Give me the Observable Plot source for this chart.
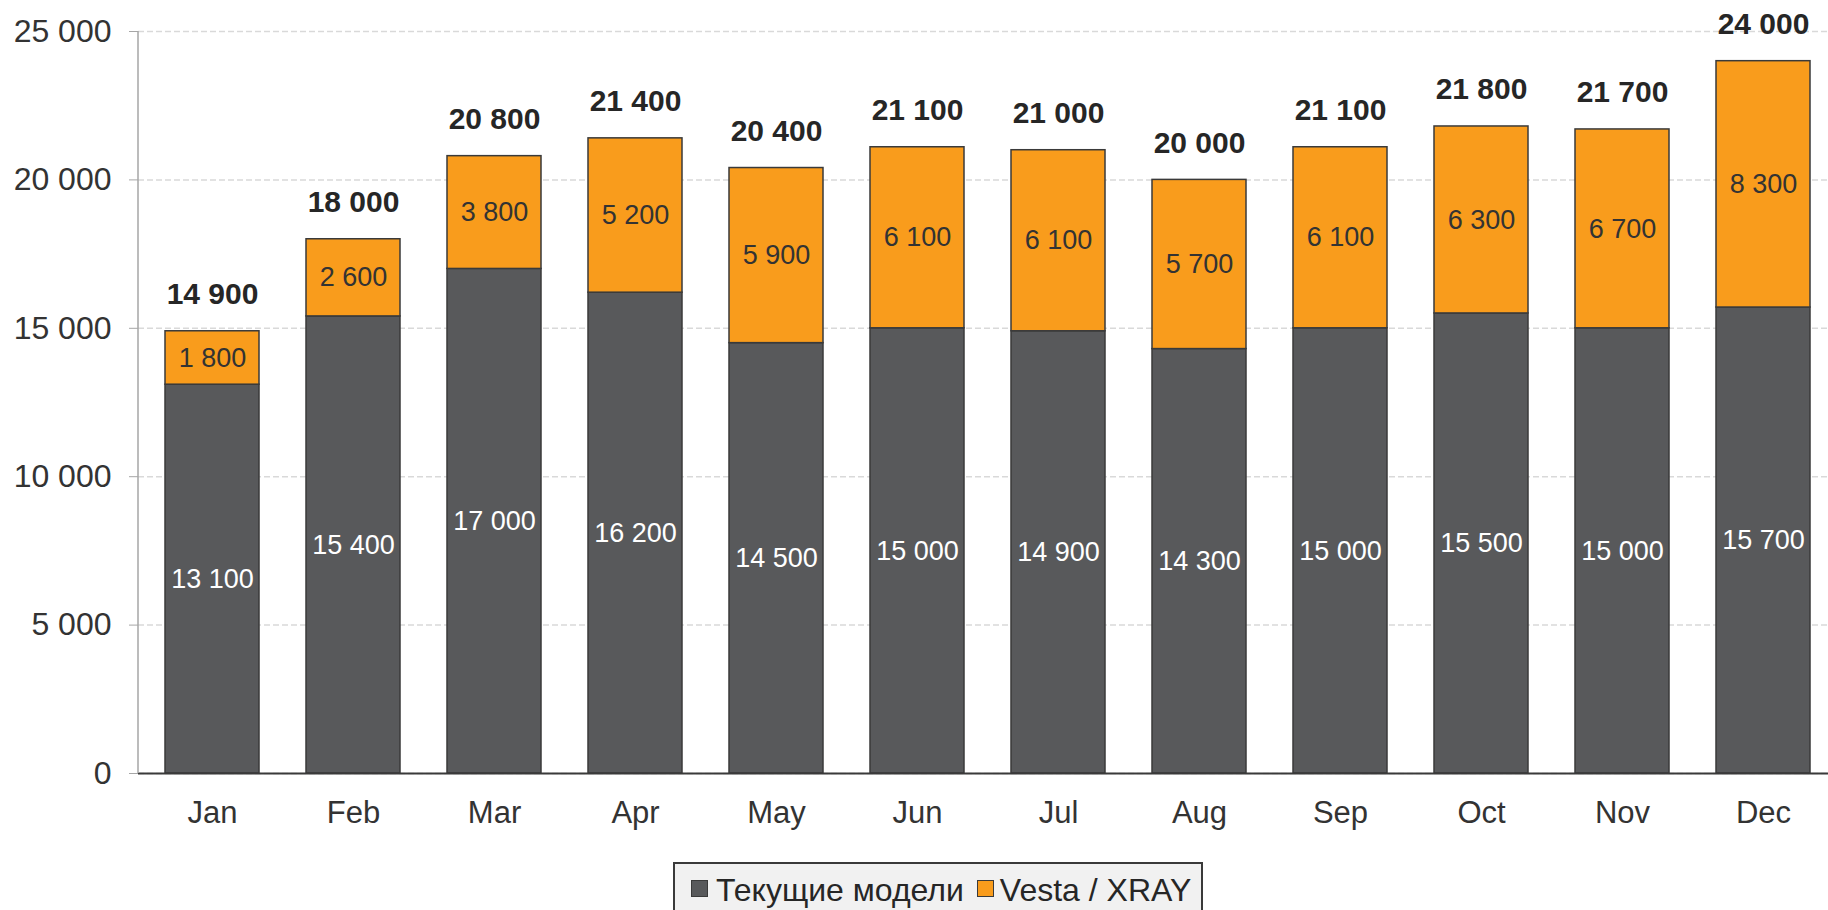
<!DOCTYPE html>
<html><head><meta charset="utf-8">
<script src="https://cdn.jsdelivr.net/npm/d3@7"></script>
<script src="https://cdn.jsdelivr.net/npm/@observablehq/plot@0.6"></script>
<style>
body{margin:0;background:#fff;font-family:"Liberation Sans",Arial,sans-serif;}
#wrap{position:relative;width:1828px;height:910px;overflow:hidden;background:#fff;}
#legend{position:absolute;left:673px;top:862px;width:530px;height:70px;box-sizing:border-box;border:2px solid #3a3a3a;background:#f1f1f1;display:flex;align-items:flex-start;padding-left:16px;padding-top:10px;font-size:32px;line-height:1;color:#262626;white-space:nowrap;}
#legend .sw{display:inline-block;width:17px;height:17px;box-sizing:border-box;border:1.5px solid #3a3a3a;margin-top:6px;}
#legend .item{display:flex;align-items:flex-start;}
</style></head><body>
<div id="wrap"><div id="chart"></div><div id="legend"></div></div>
<script>
const months = ["Jan","Feb","Mar","Apr","May","Jun","Jul","Aug","Sep","Oct","Nov","Dec"];
const current = [13100,15400,17000,16200,14500,15000,14900,14300,15000,15500,15000,15700];
const vesta = [1800,2600,3800,5200,5900,6100,6100,5700,6100,6300,6700,8300];
const totals = [14900,18000,20800,21400,20400,21100,21000,20000,21100,21800,21700,24000];
const seriesNames = ["Текущие модели","Vesta / XRAY"];
const seriesColors = ["#58595b","#f99c1c"];
const yTicks = [0,5000,10000,15000,20000,25000];

const fmt = d => d3.format(",")(d).replace(/,/g, " ");

const rows = [];
months.forEach((m, i) => {
  rows.push({month: m, series: seriesNames[0], y1: 0, y2: current[i], value: current[i]});
  rows.push({month: m, series: seriesNames[1], y1: current[i], y2: current[i] + vesta[i], value: vesta[i]});
});
const totalRows = months.map((m, i) => ({month: m, total: totals[i]}));

const chart = Plot.plot({
  width: 1828, height: 850,
  marginLeft: 138, marginRight: 0, marginTop: 31, marginBottom: 77,
  style: {fontFamily: "Liberation Sans, Arial, sans-serif", background: "#fff"},
  x: {domain: months, range: [138, 1838], paddingInner: 0.33, paddingOuter: 0.165, label: null},
  y: {domain: [0, 25000], label: null},
  color: {domain: seriesNames, range: seriesColors},
  marks: [
    Plot.gridY(yTicks, {stroke: "#d9d9d9", strokeOpacity: 1, strokeDasharray: "6,3", strokeWidth: 1.5}),
    Plot.axisY(yTicks, {tickFormat: fmt, tickSize: 9, tickPadding: 18, stroke: "#a6a6a6", fill: "#333", fontSize: 32, label: null}),
    Plot.axisX({tickSize: 0, tickPadding: 27, fontSize: 31, fill: "#333", label: null}),
    Plot.barY(rows, {x: "month", y1: "y1", y2: "y2", fill: "series", stroke: "#3a3a3a", strokeWidth: 1.5}),
    Plot.ruleY([0], {stroke: "#3a3a3a", strokeWidth: 2}),
    Plot.text(rows.filter(d => d.series === seriesNames[0]), {x: "month", y: d => (d.y1 + d.y2) / 2, text: d => fmt(d.value), fill: "#ffffff", fontSize: 27}),
    Plot.text(rows.filter(d => d.series === seriesNames[1]), {x: "month", y: d => (d.y1 + d.y2) / 2, text: d => fmt(d.value), fill: "#333333", fontSize: 27}),
    Plot.text(totalRows, {x: "month", y: "total", text: d => fmt(d.total), dy: -37, fontWeight: "bold", fontSize: 30, fill: "#262626"})
  ]
});

const ys = chart.scale("y");
d3.select(chart).append("line")
  .attr("x1", 138).attr("x2", 138)
  .attr("y1", ys.apply(25000)).attr("y2", ys.apply(0))
  .attr("stroke", "#a6a6a6").attr("stroke-width", 1.5);

document.getElementById("chart").appendChild(chart);

const legend = document.getElementById("legend");
seriesNames.forEach((name, i) => {
  const item = document.createElement("div");
  item.className = "item";
  item.style.marginRight = i === 0 ? "13px" : "0";
  const sw = document.createElement("span");
  sw.className = "sw";
  sw.style.background = seriesColors[i];
  sw.style.marginRight = i === 0 ? "8px" : "6px";
  const lbl = document.createElement("span");
  lbl.textContent = name;
  item.appendChild(sw);
  item.appendChild(lbl);
  legend.appendChild(item);
});
</script>
</body></html>
